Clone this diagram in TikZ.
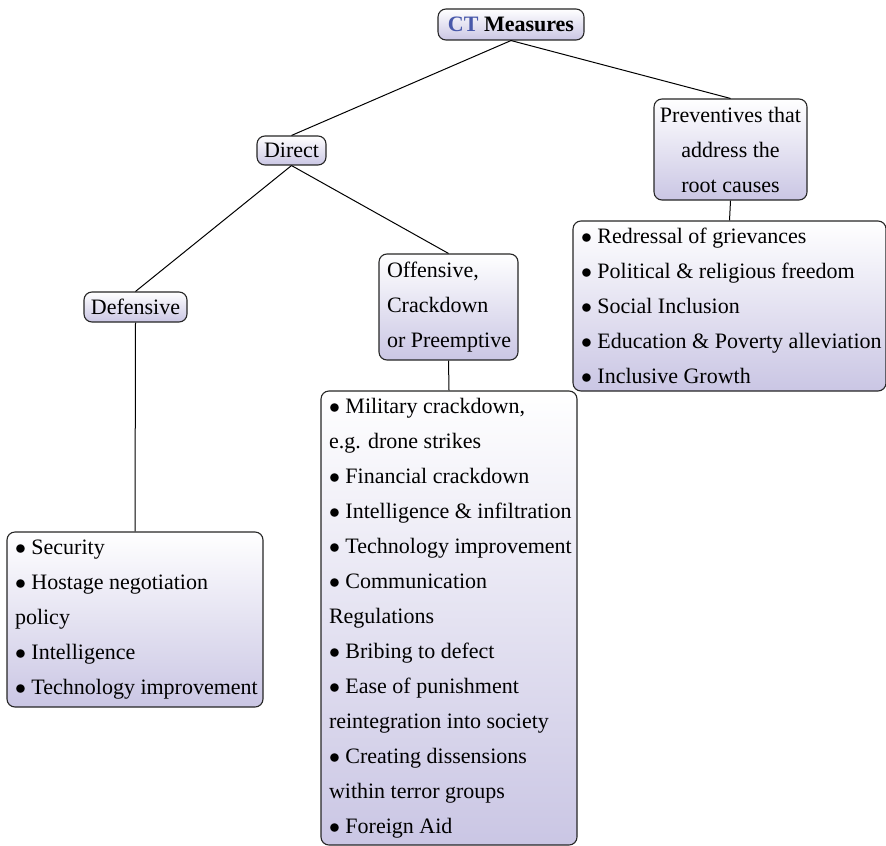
\documentclass[tikz,border=0pt]{standalone}
\usepackage{fontspec}
\setmainfont{Liberation Serif}
\definecolor{lav}{RGB}{202,198,228}
\definecolor{ctblue}{RGB}{72,88,170}
\newcommand{\li}[1]{\mbox{$\bullet$\ #1}}
\begin{document}
\begin{tikzpicture}[x=0.5pt,y=-0.5pt,
  box/.style={draw=black!85, line width=0.55pt, rounded corners=4pt,
    top color=white, bottom color=lav, inner sep=0pt,
    font=\fontsize{11}{17.5}\selectfont},
  listbox/.style={box, align=flush left, inner xsep=4pt},
  conn/.style={line width=0.5pt, black}]
\useasboundingbox (0,0) rectangle (886,845);
\node[box, minimum width=73pt, minimum height=15.5pt] (ct) at (511,24.5)
  {\textbf{\textcolor{ctblue}{CT} Measures}};
\node[box, minimum width=34.5pt, minimum height=14.5pt] (direct) at (291.5,150.5) {Direct};
\node[box, minimum width=76.5pt, minimum height=50.5pt, align=center] (prev) at (730.5,149.5)
  {Preventives that\\address the\\root causes};
\node[box, minimum width=51.5pt, minimum height=15pt] (def) at (135.5,307) {Defensive};
\node[box, minimum width=69.5pt, minimum height=53pt, align=flush left, text width=61.5pt] (off) at (448.5,307)
  {\mbox{Offensive,}\\\mbox{Crackdown}\\\mbox{or Preemptive}};
\node[listbox, minimum width=156.5pt, minimum height=85pt, text width=148.5pt] (prevlist) at (729.5,306)
  {\li{Redressal of grievances}\\\li{Political \& religious freedom}\\\li{Social Inclusion}\\\li{Education \& Poverty alleviation}\\\li{Inclusive Growth}};
\node[listbox, minimum width=128pt, minimum height=87.5pt, text width=120pt] (deflist) at (135,619.5)
  {\li{Security}\\\li{Hostage negotiation}\\\mbox{policy}\\\li{Intelligence}\\\li{Technology improvement}};
\node[listbox, minimum width=128pt, minimum height=227pt, text width=120pt] (offlist) at (449,618)
  {\li{Military crackdown,}\\\mbox{e.g. drone strikes}\\\li{Financial crackdown}\\\li{Intelligence \& infiltration}\\\li{Technology improvement}\\\li{Communication}\\\mbox{Regulations}\\\li{Bribing to defect}\\\li{Ease of punishment}\\\mbox{reintegration into society}\\\li{Creating dissensions}\\\mbox{within terror groups}\\\li{Foreign Aid}};
\draw[conn] (ct.south) -- (direct.north);
\draw[conn] (ct.south) -- (prev.north);
\draw[conn] (direct.south) -- (def.north);
\draw[conn] (direct.south) -- (off.north);
\draw[conn] (prev.south) -- (prevlist.north);
\draw[conn] (def.south) -- (deflist.north);
\draw[conn] (off.south) -- (offlist.north);
\end{tikzpicture}
\end{document}
